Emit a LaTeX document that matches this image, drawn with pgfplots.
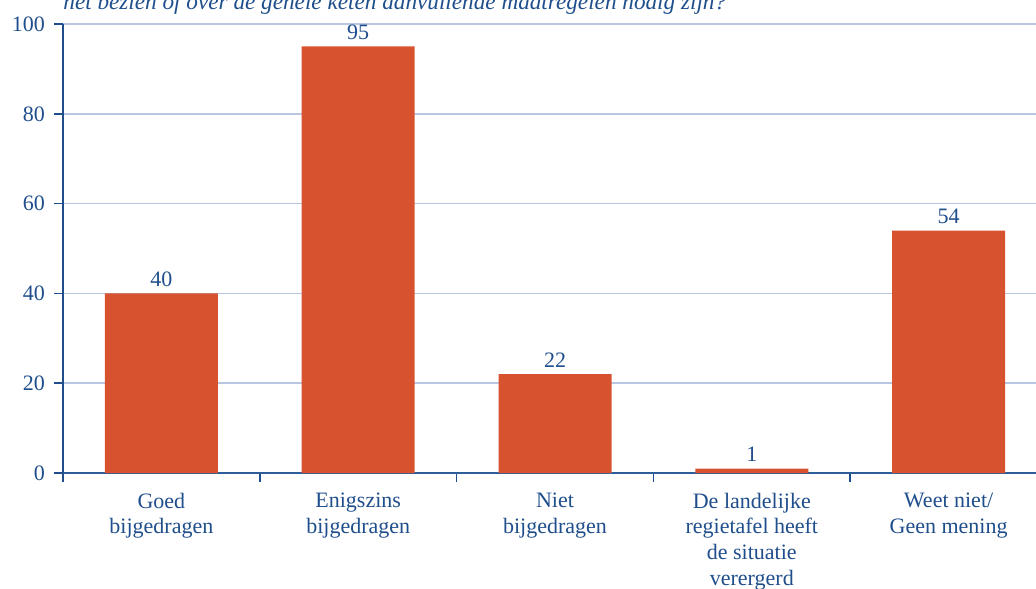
\documentclass[border=0pt]{standalone}
\usepackage{fontspec}
\setmainfont{Liberation Serif}
\usepackage{pgfplots}
\pgfplotsset{compat=1.18}
\definecolor{txtblue}{HTML}{1F4E8C}
\definecolor{barred}{HTML}{D7532F}
\definecolor{gridc}{HTML}{B9C6E2}
\definecolor{axc}{HTML}{2E5E9A}
\begin{document}
\begin{tikzpicture}
\begin{axis}[
  at={(31.5pt,57.5pt)}, anchor=south west,
  scale only axis, width=492pt, height=224.5pt,
  xmin=-0.5, xmax=4.5, ymin=0, ymax=100,
  axis lines*=left,
  axis line style={-, draw=axc, line width=0.8pt},
  y axis line style={draw=txtblue},
  ytick={0,20,...,100},
  xtick={0,...,4},
  xticklabels={{Goed\\bijgedragen},{Enigszins\\bijgedragen},{Niet\\bijgedragen},{De landelijke\\regietafel heeft\\de situatie\\verergerd},{Weet niet/\\Geen mening}},
  minor xtick={-0.5,0.5,1.5,2.5,3.5},
  tick align=outside,
  major tick length=4.5pt,
  minor tick length=4.5pt,
  major x tick style={draw=none},
  every tick/.style={draw=txtblue, line width=0.8pt},
  ymajorgrids,
  grid style={draw=gridc, line width=0.8pt},
  /pgf/number format/assume math mode=true,
  tick label style={font=\fontsize{11}{12.8}\selectfont, text=txtblue},
  xticklabel style={align=center, yshift=-2pt},
  yticklabel style={xshift=-1pt},
  ybar, bar width=56.5pt,
  nodes near coords,
  every node near coord/.append style={font=\fontsize{11}{12.8}\selectfont, text=txtblue},
  clip=false,
]
\addplot[fill=barred, draw=none] coordinates {(0,40) (1,95) (2,22) (3,1) (4,54)};
\end{axis}
\node[anchor=base west, font=\fontsize{11.6}{14}\selectfont\itshape, text=txtblue, inner sep=0pt] at (31.5pt,289pt) {het bezien of over de gehele keten aanvullende maatregelen nodig zijn?};
\pgfresetboundingbox
\path[use as bounding box] (0,0) rectangle (518pt,294pt);
\end{tikzpicture}
\end{document}
